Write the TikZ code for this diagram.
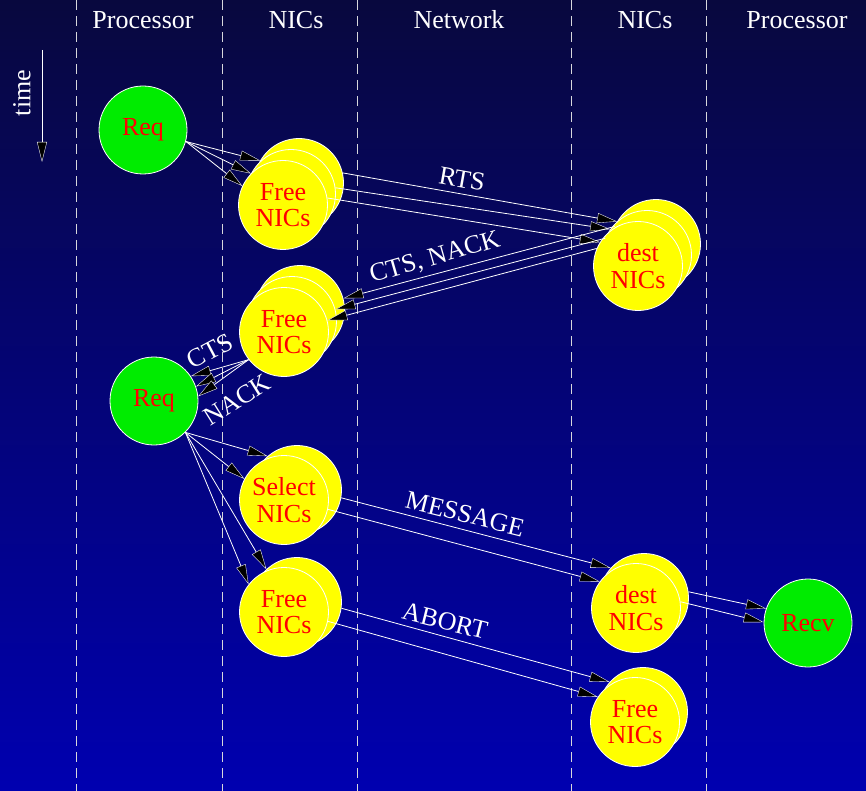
\documentclass[tikz,border=0pt]{standalone}
\usepackage{fontspec}
\setmainfont{Liberation Serif}
\usetikzlibrary{arrows.meta}
\definecolor{bgtop}{RGB}{8,8,62}
\definecolor{bgbot}{RGB}{0,0,176}
\definecolor{nicyellow}{RGB}{255,255,0}
\definecolor{procgreen}{RGB}{0,236,0}
\definecolor{lanegray}{RGB}{215,215,220}
\newcommand\lblfont{\fontsize{26}{26.5}\selectfont}
\begin{document}
\begin{tikzpicture}[x=1pt,y=-1pt,
  lane/.style={draw=lanegray, line width=1pt, dash pattern=on 10pt off 6pt},
  header/.style={text=white, font=\lblfont, inner sep=0pt},
  nic/.style={circle, fill=nicyellow, draw=white, line width=0.8pt,
    minimum size=89pt, inner sep=0pt, text=red, align=center, font=\lblfont},
  proc/.style={circle, fill=procgreen, draw=white, line width=0.8pt,
    minimum size=88pt, inner sep=0pt, text=red, font=\lblfont},
  tipblack/.tip={Triangle[length=20pt,width=10pt,fill=black,line width=0.35pt]},
  msg/.style={draw=white, line width=0.8pt, -tipblack},
  tag/.style={text=white, font=\lblfont, inner sep=0pt}]

% background
\shade[top color=bgtop, bottom color=bgbot] (0,0) rectangle (866,791);
\useasboundingbox (0,0) rectangle (866,791);

% lane separators
\foreach \x/\n in {76/a,222/b,357/c,571/d,706/e}{
  \coordinate (top\n) at (\x,0);
  \coordinate (bot\n) at (\x,791);
  \draw[lane] (top\n) -- (bot\n);
}

% lane headers
\node[header] (h1) at (143,20) {Processor};
\node[header] (h2) at (296,20) {NICs};
\node[header] (h3) at (459,20) {Network};
\node[header] (h4) at (645,20) {NICs};
\node[header] (h5) at (797,20) {Processor};

% time axis
\coordinate (t0) at (42,50);
\coordinate (t1) at (42,162);
\draw[msg] (t0) -- (t1);
\node[tag, rotate=90] (time) at (22,93) {time};

% processors
\node[proc] (req1) at (143,130) {Req};
\node[proc] (req2) at (154,401) {Req};
\node[proc] (recv) at (808,623) {Recv};

% NIC groups (back to front)
\node[nic] (fa1) at (299,183) {};
\node[nic] (fa2) at (291,194) {};
\node[nic] (fa3) at (283,205) {Free\\NICs};

\node[nic] (da1) at (656,244) {};
\node[nic] (da2) at (647,255) {};
\node[nic] (da3) at (638,266) {dest\\NICs};

\node[nic] (fb1) at (300,310) {};
\node[nic] (fb2) at (292,321) {};
\node[nic] (fb3) at (284,332) {Free\\NICs};

\node[nic] (sa1) at (297,490) {};
\node[nic] (sa2) at (284,500) {Select\\NICs};

\node[nic] (fc1) at (297,602) {};
\node[nic] (fc2) at (284,612) {Free\\NICs};

\node[nic] (db1) at (644,598) {};
\node[nic] (db2) at (636,608) {dest\\NICs};

\node[nic] (fd1) at (643,712) {};
\node[nic] (fd2) at (635,722) {Free\\NICs};

% request to free NICs
\draw[msg] (req1.-15) -- (fa1.150);
\draw[msg] (req1.-15) -- (fa2.153);
\draw[msg] (req1.-15) -- (fa3.155);

% RTS
\draw[msg] (fa1.13) -- (da1.150);
\draw[msg] (fa2.8) -- (da2.145);
\draw[msg] (fa3.9) -- (da3.148);
\node[tag, rotate=-10] (rts) at (462,179) {RTS};

% CTS, NACK
\draw[msg] (da1.157) -- (fb1.15);
\draw[msg] (da2.158) -- (fb2.15);
\draw[msg] (da3.157) -- (fb3.15);
\node[tag, rotate=16] (ctsnack) at (435,258) {CTS, NACK};

% replies to requester
\draw[msg] (fb3.218) -- (req2.34);
\draw[msg] (fb3.218) -- (req2.19);
\draw[msg] (fb3.218) -- (req2.6);
\node[tag, rotate=28] (cts) at (210,351) {CTS};
\node[tag, rotate=32] (nack) at (237,400) {NACK};

% select and release
\draw[msg] (req2.-45) -- (sa1.131);
\draw[msg] (req2.-45) -- (sa2.152);
\draw[msg] (req2.-45) -- (fc1.133);
\draw[msg] (req2.-45) -- (fc2.142);

% MESSAGE
\draw[msg] (sa1.-10) -- (db1.138);
\draw[msg] (sa2.-12) -- (db2.144);
\node[tag, rotate=-14] (message) at (465,514) {MESSAGE};

% ABORT
\draw[msg] (fc1.-8) -- (fd1.138);
\draw[msg] (fc2.-12) -- (fd2.146);
\node[tag, rotate=-14] (abort) at (445,621) {ABORT};

% delivery
\draw[msg] (db1.8) -- (recv.161);
\draw[msg] (db2.8) -- (recv.179);
\end{tikzpicture}
\end{document}
